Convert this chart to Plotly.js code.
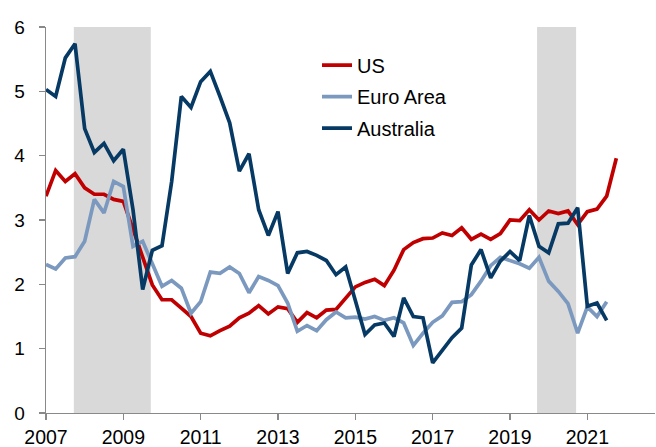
<!DOCTYPE html>
<html>
<head>
<meta charset="utf-8">
<script src="https://cdn.plot.ly/plotly-3.0.1.min.js"></script>
<style>html,body{margin:0;padding:0;background:#fff;}#chart{width:656px;height:447px;}</style>
</head>
<body>
<div id="chart"></div>
<script>
// Quarterly observations starting 2007 Q1
var startYear = 2007;
var us = [3.37,3.77,3.60,3.72,3.50,3.40,3.40,3.32,3.29,2.85,2.43,1.99,1.76,1.76,1.63,1.50,
          1.24,1.20,1.28,1.35,1.48,1.55,1.67,1.54,1.65,1.62,1.41,1.56,1.48,1.60,1.61,1.79,
          1.96,2.03,2.08,1.98,2.22,2.54,2.65,2.71,2.72,2.80,2.76,2.88,2.70,2.78,2.70,2.79,
          3.00,2.99,3.16,3.00,3.14,3.10,3.14,2.93,3.13,3.17,3.37,3.96];
var euroArea = [2.31,2.24,2.41,2.43,2.67,3.32,3.11,3.60,3.52,2.59,2.67,2.31,1.97,2.06,1.94,1.55,
          1.73,2.19,2.17,2.27,2.17,1.87,2.12,2.06,1.98,1.71,1.27,1.36,1.28,1.45,1.57,1.48,
          1.49,1.46,1.50,1.44,1.48,1.40,1.05,1.24,1.41,1.51,1.72,1.73,1.84,2.05,2.29,2.42,
          2.37,2.32,2.25,2.42,2.05,1.89,1.70,1.24,1.65,1.50,1.73];
var australia = [5.03,4.92,5.52,5.74,4.42,4.05,4.19,3.92,4.10,3.16,1.92,2.53,2.60,3.60,4.92,4.75,
          5.15,5.31,4.92,4.51,3.76,4.03,3.16,2.76,3.13,2.17,2.49,2.51,2.45,2.37,2.15,2.27,
          1.75,1.22,1.37,1.40,1.19,1.79,1.50,1.48,0.78,0.98,1.17,1.32,2.30,2.54,2.10,2.36,
          2.51,2.37,3.07,2.59,2.49,2.94,2.95,3.19,1.66,1.71,1.44];
var recessions = [[2007.72, 2009.71], [2019.70, 2020.71]];
var tickYears = [2007, 2009, 2011, 2013, 2015, 2017, 2019, 2021];

function quarters(n){ var a=[]; for(var i=0;i<n;i++){ a.push(startYear + i/4); } return a; }

var traces = [
  {name:'US', legendgroup:'g1', x:quarters(us.length), y:us, type:'scatter', mode:'lines',
   line:{color:'#c00000', width:3.7}},
  {name:'Euro Area', legendgroup:'g2', x:quarters(euroArea.length), y:euroArea, type:'scatter', mode:'lines',
   line:{color:'#7b99bf', width:3.7}},
  {name:'Australia', legendgroup:'g3', x:quarters(australia.length), y:australia, type:'scatter', mode:'lines',
   line:{color:'#063963', width:3.7}}
];

var shapes = recessions.map(function(r){
  return {type:'rect', xref:'x', yref:'y', x0:r[0], x1:r[1], y0:0, y1:6,
          fillcolor:'#d9d9d9', line:{width:0}, layer:'below'};
});

var layout = {
  width:656, height:447,
  margin:{l:46, r:1, t:27, b:34},
  paper_bgcolor:'#ffffff', plot_bgcolor:'#ffffff',
  font:{family:'Liberation Sans, Arial, sans-serif', color:'#000000', size:19},
  showlegend:true,
  legend:{x:0.445, y:0.952, xanchor:'left', yanchor:'top', bgcolor:'rgba(0,0,0,0)',
          borderwidth:0, font:{size:20, color:'#000000'}, traceorder:'grouped', tracegroupgap:2.5},
  xaxis:{range:[2007, 2022.75], tickvals:tickYears, ticktext:tickYears.map(String),
         showgrid:false, zeroline:false, showline:true, linecolor:'#898989', linewidth:1.3,
         ticks:'outside', ticklen:6, tickcolor:'#898989', tickwidth:1.3,
         tickfont:{size:19.5}, fixedrange:true},
  yaxis:{range:[0, 6], dtick:1, tick0:0, showgrid:false, zeroline:false, showline:true,
         linecolor:'#898989', linewidth:1.3, ticks:'outside', ticklen:6, tickcolor:'#898989',
         tickwidth:1.3, tickfont:{size:19}, ticklabelstandoff:10, fixedrange:true},
  shapes:shapes
};

Plotly.newPlot('chart', traces, layout, {displayModeBar:false, staticPlot:true});
</script>
</body>
</html>
